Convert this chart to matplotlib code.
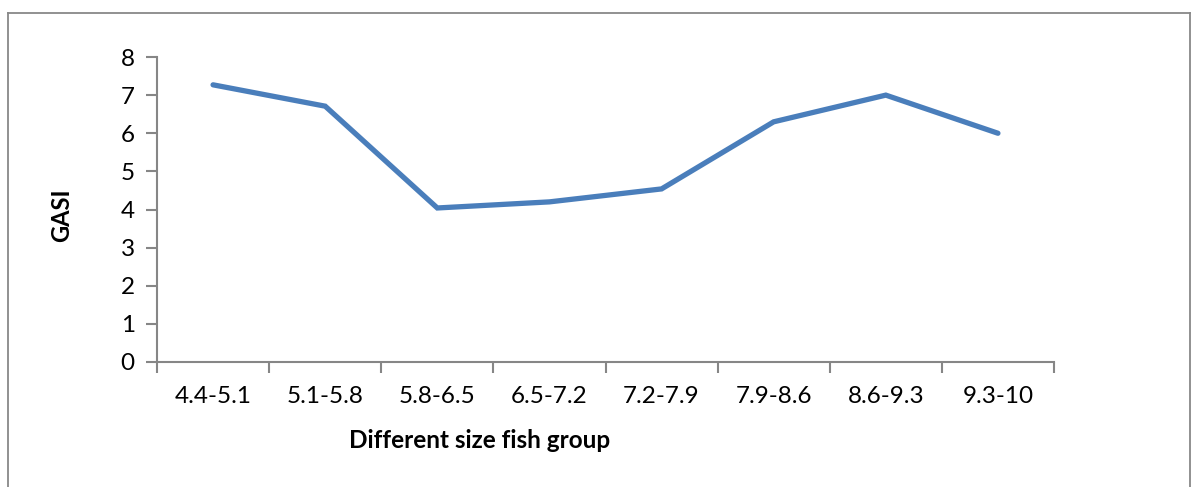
import matplotlib
matplotlib.use("Agg")
import matplotlib.pyplot as plt
from matplotlib.lines import Line2D
import numpy as np

categories = ["4.4-5.1", "5.1-5.8", "5.8-6.5", "6.5-7.2", "7.2-7.9", "7.9-8.6", "8.6-9.3", "9.3-10"]
gasi = [7.27, 6.71, 4.04, 4.2, 4.54, 6.3, 7.0, 6.0]

plt.rcParams['font.family'] = ['Lato', 'DejaVu Sans']

fig = plt.figure(figsize=(11.94, 4.87), dpi=100)
ax = fig.add_axes([157/1194, 1-362/487, (1054-157)/1194, (362-57)/487])

x = np.arange(len(categories)) + 0.5
ax.plot(x, gasi, color='#4A7EBB', linewidth=3.8, solid_joinstyle='miter', solid_capstyle='round')

ax.set_xlim(0, len(categories))
ax.set_ylim(0, 8)
ax.set_yticks(range(0, 9))
ax.set_xticks(range(0, len(categories)+1))
ax.set_xticklabels([])
ax.set_xticks(x, minor=True)
ax.set_xticklabels(categories, minor=True)
ax.tick_params(axis='x', which='minor', length=0, pad=17, labelsize=17.5)
ax.tick_params(axis='x', which='major', length=8, width=1.5, color='#868686', direction='out')
ax.tick_params(axis='y', length=8, width=1.5, color='#868686', direction='out', labelsize=17.5, pad=8)

for s in ['top', 'right']:
    ax.spines[s].set_visible(False)
for s in ['left', 'bottom']:
    ax.spines[s].set_color('#868686')
    ax.spines[s].set_linewidth(1.5)

fig.text(62/1194, 1-215/487, 'GASI', rotation=90, fontsize=17, fontweight='bold', ha='center', va='center')
fig.text(480/1194, 1-440/487, 'Different size fish group', fontsize=17.5, fontweight='bold', ha='center', va='center')

# outer chart frame
c = '#888888'
fig.add_artist(Line2D([8/1194, 8/1194], [0, 1-13/487], color=c, lw=1.3, transform=fig.transFigure))
fig.add_artist(Line2D([8/1194, 1190/1194], [1-13/487, 1-13/487], color=c, lw=1.3, transform=fig.transFigure))
fig.add_artist(Line2D([1190/1194, 1190/1194], [0, 1-13/487], color=c, lw=1.3, transform=fig.transFigure))

fig.savefig('out.png', dpi=100)
